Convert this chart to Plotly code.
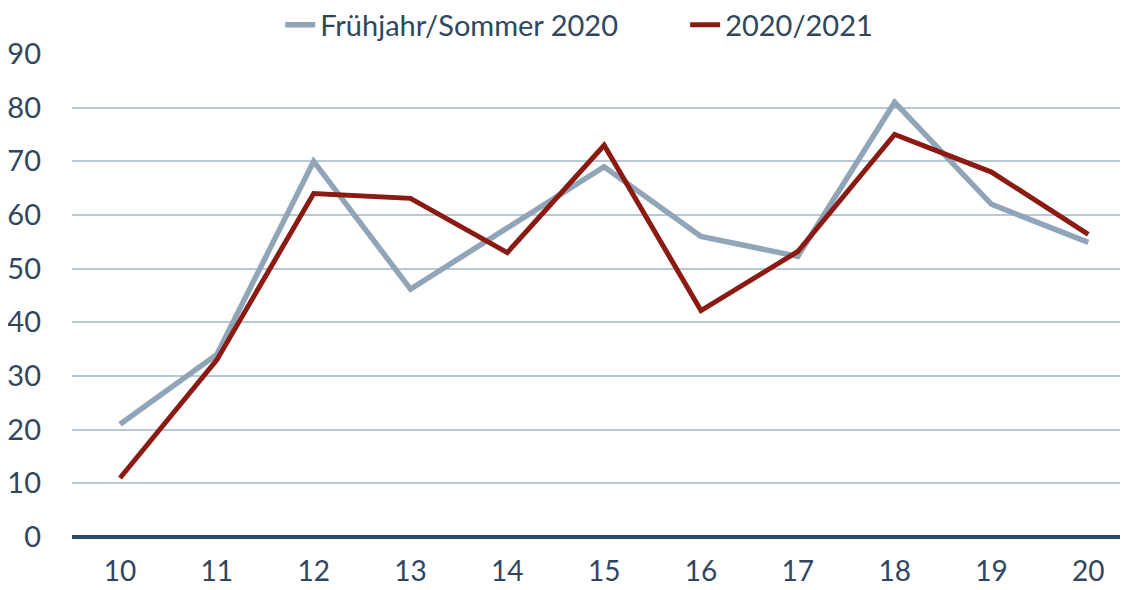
import plotly.graph_objects as go

categories = [10, 11, 12, 13, 14, 15, 16, 17, 18, 19, 20]
fruehjahr_sommer_2020 = [21, 34, 70, 46.2, 57.6, 69, 56, 52.3, 81, 62, 54.9]
winter_2020_2021 = [11, 33, 64, 63.1, 53, 73, 42.2, 53.2, 75, 68, 56.4]
y_ticks = [0, 10, 20, 30, 40, 50, 60, 70, 80, 90]

text_color = "#2F4661"
fig = go.Figure()
fig.add_trace(go.Scatter(x=categories, y=fruehjahr_sommer_2020, mode="lines",
                         name="Frühjahr/Sommer 2020",
                         line=dict(color="#91A5B9", width=5.5)))
fig.add_trace(go.Scatter(x=categories, y=winter_2020_2021, mode="lines",
                         name="2020/2021",
                         line=dict(color="#8B1A12", width=5)))

fig.update_layout(
    width=1120, height=582,
    margin=dict(l=64, r=0, t=46, b=53, autoexpand=False),
    paper_bgcolor="white", plot_bgcolor="white",
    font=dict(family="Lato, Open Sans, sans-serif", size=29, color=text_color),
    showlegend=True,
    legend=dict(orientation="h", x=0.243, xref="container", xanchor="left",
                y=0.971, yref="container", yanchor="middle",
                font=dict(size=29, color=text_color),
                entrywidth=360, tracegroupgap=0),
    xaxis=dict(range=[9.504, 20.41], tickvals=categories,
               ticktext=[str(c) for c in categories],
               showgrid=False, zeroline=False, automargin=False,
               showline=False, ticks="", ticklabelstandoff=15,
               tickfont=dict(size=28)),
    yaxis=dict(range=[0, 90], tickvals=y_ticks, showgrid=True,
               gridcolor="#B8C8D8", gridwidth=1.5, automargin=False,
               zeroline=True, zerolinecolor="#2F4A68", zerolinewidth=3.5,
               showline=False, ticks="", ticklabelstandoff=30),
)
fig.write_html("out.html")
